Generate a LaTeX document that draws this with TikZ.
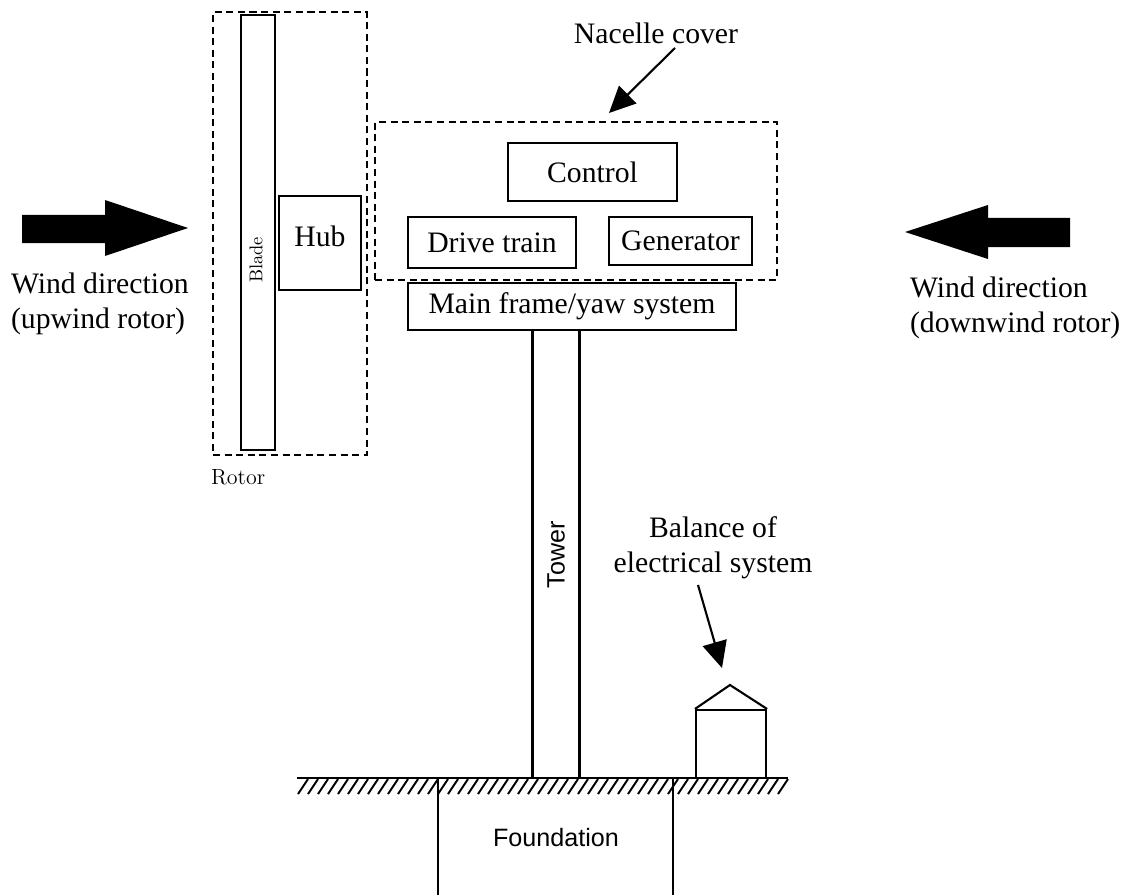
\documentclass[tikz,border=0pt]{standalone}
\usepackage{fontspec}
\usepackage{tikz}
\usetikzlibrary{arrows.meta}
\setsansfont{Liberation Sans}
\newfontfamily\timesfont{Liberation Serif}
\newcommand{\ptrarrow}{-{Triangle[length=15pt,width=14pt]}}
\newcommand{\bigtxt}{\timesfont\fontsize{16.9}{19.8}\selectfont}
\newcommand{\sanstxt}{\sffamily\fontsize{14.3}{17}\selectfont}

\begin{document}
\begin{tikzpicture}[x=0.02cm,y=-0.02cm,line width=1.2pt,
		part/.style={draw,rectangle,inner sep=0pt,font=\bigtxt},
		hull/.style={draw,rectangle,inner sep=0pt,dash pattern=on 4pt off 2.6pt}]
	\useasboundingbox (0,0) rectangle (1132,895);
	% rotor
	\node[hull,minimum width=3.08cm,minimum height=8.86cm] (rotor) at (290,233.5) {};
	\node[part,minimum width=0.68cm,minimum height=8.7cm] (blade) at (258,232.5) {};
	\node[rotate=90,font=\fontsize{10.5}{12}\selectfont] (bladetxt) at (256,260) {Blade};
	\node[part,minimum width=1.64cm,minimum height=1.88cm] (hub) at (320,243) {};
	\node[font=\bigtxt] (hubtxt) at (320,236) {Hub};
	\node[anchor=west,inner sep=0pt,font=\fontsize{12.5}{14}\selectfont] (rotortxt) at (210,477) {Rotor};
	% nacelle
	\node[hull,minimum width=8.04cm,minimum height=3.16cm] (nacelle) at (576,201) {};
	\node[part,minimum width=3.38cm,minimum height=1.16cm] (control) at (592.5,172) {Control};
	\node[part,minimum width=3.36cm,minimum height=1.02cm] (drive) at (492,242.5) {Drive train};
	\node[part,minimum width=2.86cm,minimum height=0.96cm] (gen) at (680.5,241) {Generator};
	\node[part,minimum width=6.56cm,minimum height=0.94cm] (frame) at (572,306.5) {Main frame/yaw system};
	\node[font=\bigtxt] (nacelletxt) at (656,33) {Nacelle cover};
	\coordinate (ncstart) at (675,48);
	\coordinate (nctip) at (609,113);
	\draw[\ptrarrow] (ncstart) -- (nctip);
	% tower
	\node[part,minimum width=0.94cm,minimum height=8.96cm] (tower) at (556,554) {};
	\node[rotate=90,font=\sanstxt] (towertxt) at (556,555) {Tower};
	% ground and foundation
	\draw (297,778) -- (788,778);
	\foreach \x in {308,318,...,788}
		\draw[line width=1.1pt] (\x,779) -- ++(-10,15);
	\draw (438,778) -- (438,895);
	\draw (673,778) -- (673,895);
	\node[font=\sanstxt] (fndtxt) at (556,838) {Foundation};
	% balance of electrical system
	\node[part,minimum width=1.4cm,minimum height=1.36cm] (house) at (731,744) {};
	\coordinate (apex) at (730,685);
	\draw (house.north west) -- (apex) -- (house.north east);
	\node[align=center,font=\bigtxt] (baltxt) at (713,548) {Balance of\\electrical system};
	\coordinate (balstart) at (698,585);
	\coordinate (baltip) at (722,668);
	\draw[\ptrarrow] (balstart) -- (baltip);
	% wind
	\fill (22,215) -- (105,215) -- (105,200) -- (188,228) -- (105,256) -- (105,243) -- (22,243) -- cycle;
	\node[anchor=west,align=left,inner sep=0pt,font=\bigtxt] (windup) at (10,304) {Wind direction\\(upwind rotor)};
	\fill (1070,218) -- (988,218) -- (988,205) -- (905,232) -- (988,259) -- (988,247) -- (1070,247) -- cycle;
	\node[anchor=west,align=left,inner sep=0pt,font=\bigtxt] (winddown) at (909,308) {Wind direction\\(downwind rotor)};
\end{tikzpicture}
\end{document}
